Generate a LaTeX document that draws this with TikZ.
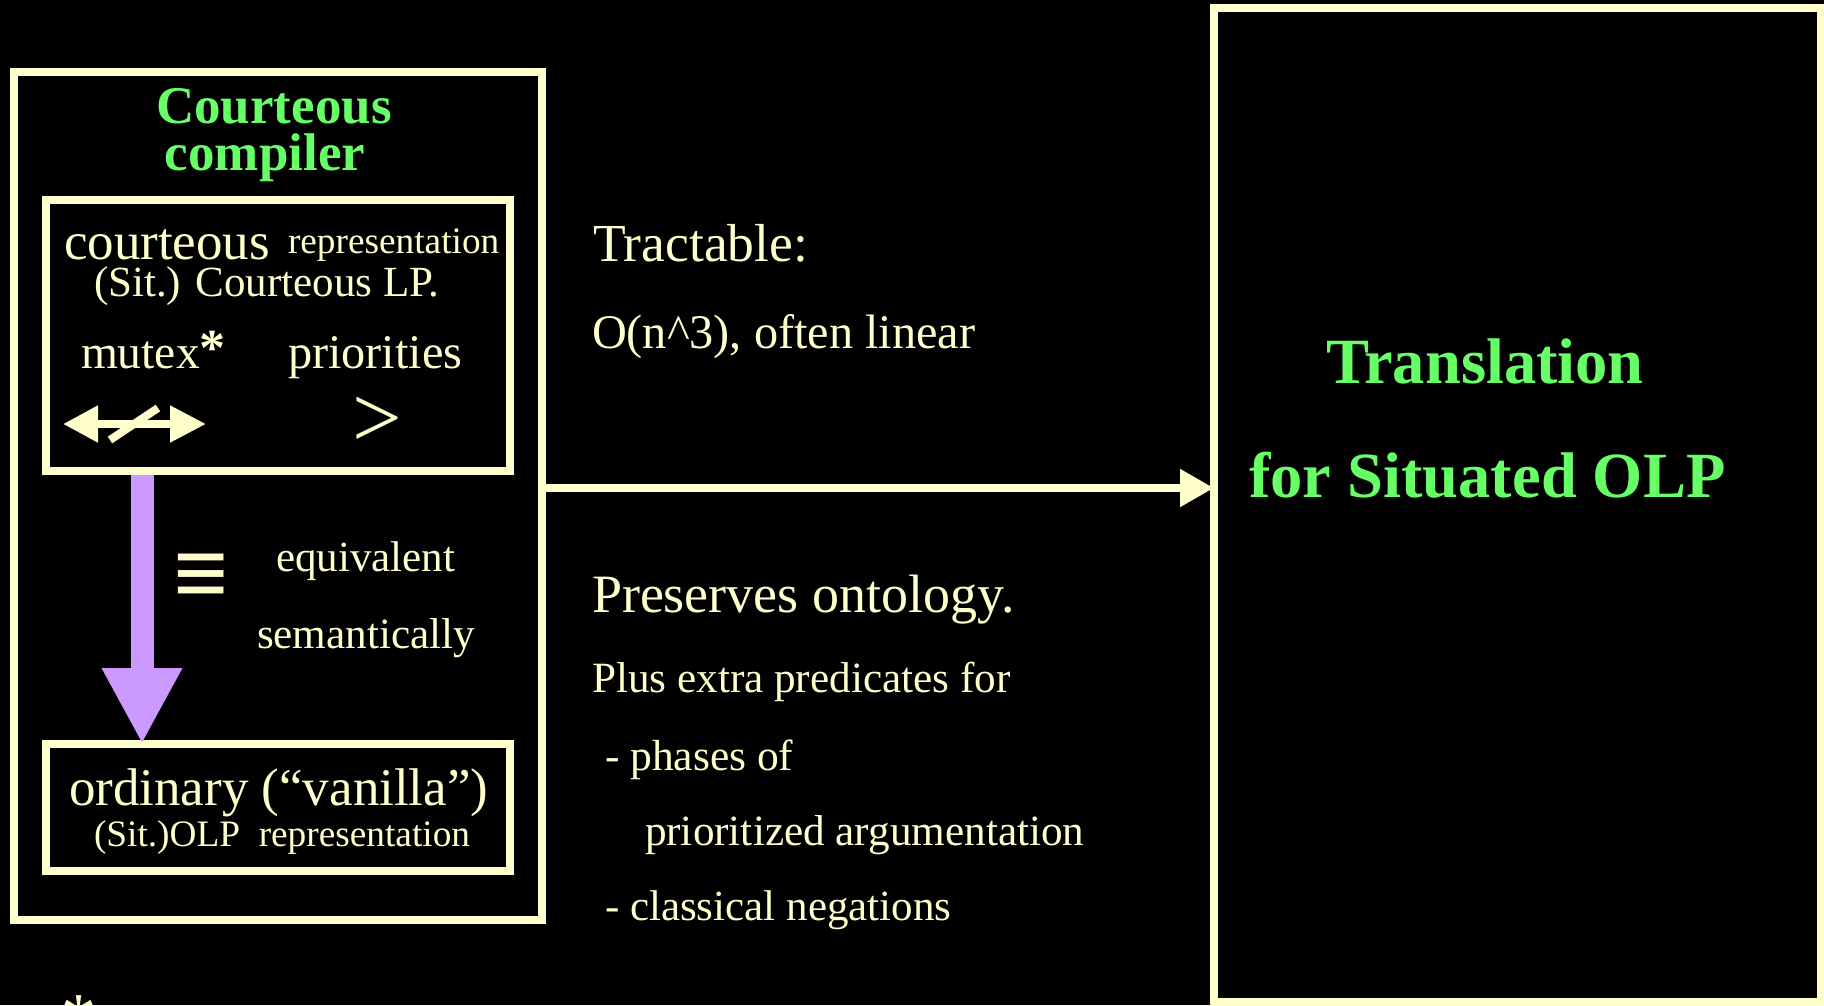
\documentclass[tikz,border=0pt]{standalone}
\usepackage{fontspec}
\setmainfont{Liberation Serif}
\usetikzlibrary{arrows.meta}
\definecolor{cream}{HTML}{FFFFCC}
\definecolor{lgreen}{HTML}{66FF66}
\definecolor{lpurple}{HTML}{CC99FF}
\newcommand{\fsz}[1]{\fontsize{#1}{#1}\selectfont}
\begin{document}
\begin{tikzpicture}[x=1pt,y=-1pt,
  frame/.style={draw=cream, line width=8pt, inner sep=0pt, outer sep=0pt, anchor=north west},
  txt/.style={text=cream, inner sep=0pt, outer sep=0pt, anchor=base west},
  ttl/.style={text=lgreen, inner sep=0pt, outer sep=0pt},
  sym/.style={text=cream, inner sep=0pt, outer sep=0pt},
  conn/.style={cream, line width=8pt},
]
\fill[black] (0,0) rectangle (1824,1005);
\useasboundingbox (0,0) rectangle (1824,1005);

% boxes
\node[frame, minimum width=528pt, minimum height=848pt] (outer) at (14,72) {};
\node[frame, minimum width=464pt, minimum height=271pt] (rep) at (46,200) {};
\node[frame, minimum width=464pt, minimum height=127pt] (olp) at (46,744) {};
\node[frame, minimum width=607pt, minimum height=994pt] (trans) at (1214,8) {};

% compiler title
\node[ttl, anchor=base, font=\fsz{53}\bfseries] (t1) at (274,123) {Courteous};
\node[ttl, anchor=base, font=\fsz{53}\bfseries] (t2) at (265,170) {compiler};

% courteous representation box
\node[txt, font=\fsz{53}] (c1) at (64,259) {courteous};
\node[txt, font=\fsz{37.3}] (c2) at (288,253) {representation};
\node[txt, font=\fsz{43}] (c3) at (94,296) {(Sit.) Courteous LP.};
\node[txt, font=\fsz{47.5}] (mx) at (81,368) {mutex\raisebox{3pt}{\fsz{52}\bfseries *}};
\node[txt, font=\fsz{48.3}] (pr) at (288,368) {priorities};
\node[sym, font=\fsz{88}] (gt) at (377,422) {>};
\coordinate (mxl) at (63,424);
\coordinate (mxr) at (206,424);
\draw[conn, {Triangle[length=35pt,width=35pt]}-{Triangle[length=36pt,width=35pt]}] (mxl) -- (mxr);
\coordinate (sl1) at (110,440);
\coordinate (sl2) at (158,408);
\draw[conn] (sl1) -- (sl2);

% purple arrow
\draw[lpurple, line width=23pt, -{Triangle[length=76pt,width=75pt]}]
  ([xshift=96pt,yshift=-4pt]rep.south west) -- ([xshift=96pt]olp.north west);
\node[sym, font=\fsz{98}\bfseries] (eq) at (201,580) {≡};
\node[txt, font=\fsz{43}] (e1) at (276,571) {equivalent};
\node[txt, font=\fsz{43.2}] (e2) at (257,648) {semantically};

% ordinary box
\node[txt, font=\fsz{53}] (o1) at (69,805) {ordinary (“vanilla”)};
\node[txt, font=\fsz{37.3}] (o2) at (94,846) {(Sit.)OLP\ \ representation};

% main arrow
\draw[conn, -{Triangle[length=34pt,width=36pt]}]
  ([yshift=-416pt]outer.north east) -- ([yshift=-480pt]trans.north west);

% middle texts
\node[txt, font=\fsz{53.5}] (m1) at (593,261) {Tractable:};
\node[txt, font=\fsz{48.3}] (m2) at (592,348) {O(n\textasciicircum 3), often linear};
\node[txt, font=\fsz{54}] (m3) at (592,612) {Preserves ontology.};
\node[txt, font=\fsz{43.2}] (m4) at (592,692) {Plus extra predicates for};
\node[txt, font=\fsz{43.5}] (m5) at (605,770) {- phases of};
\node[txt, font=\fsz{43.2}] (m6) at (645,845) {prioritized argumentation};
\node[txt, font=\fsz{43}] (m7) at (605,920) {- classical negations};

% translation title
\node[ttl, anchor=base west, font=\fsz{64.5}\bfseries] (r1) at (1326,383) {Translation};
\node[ttl, anchor=base west, font=\fsz{64.5}\bfseries] (r2) at (1249,497) {for Situated OLP};

% footnote asterisk (cut off at the bottom edge, as in the reference)
\node[sym, anchor=north, font=\fsz{70}] (fn) at (79,996) {*};
\end{tikzpicture}
\end{document}
